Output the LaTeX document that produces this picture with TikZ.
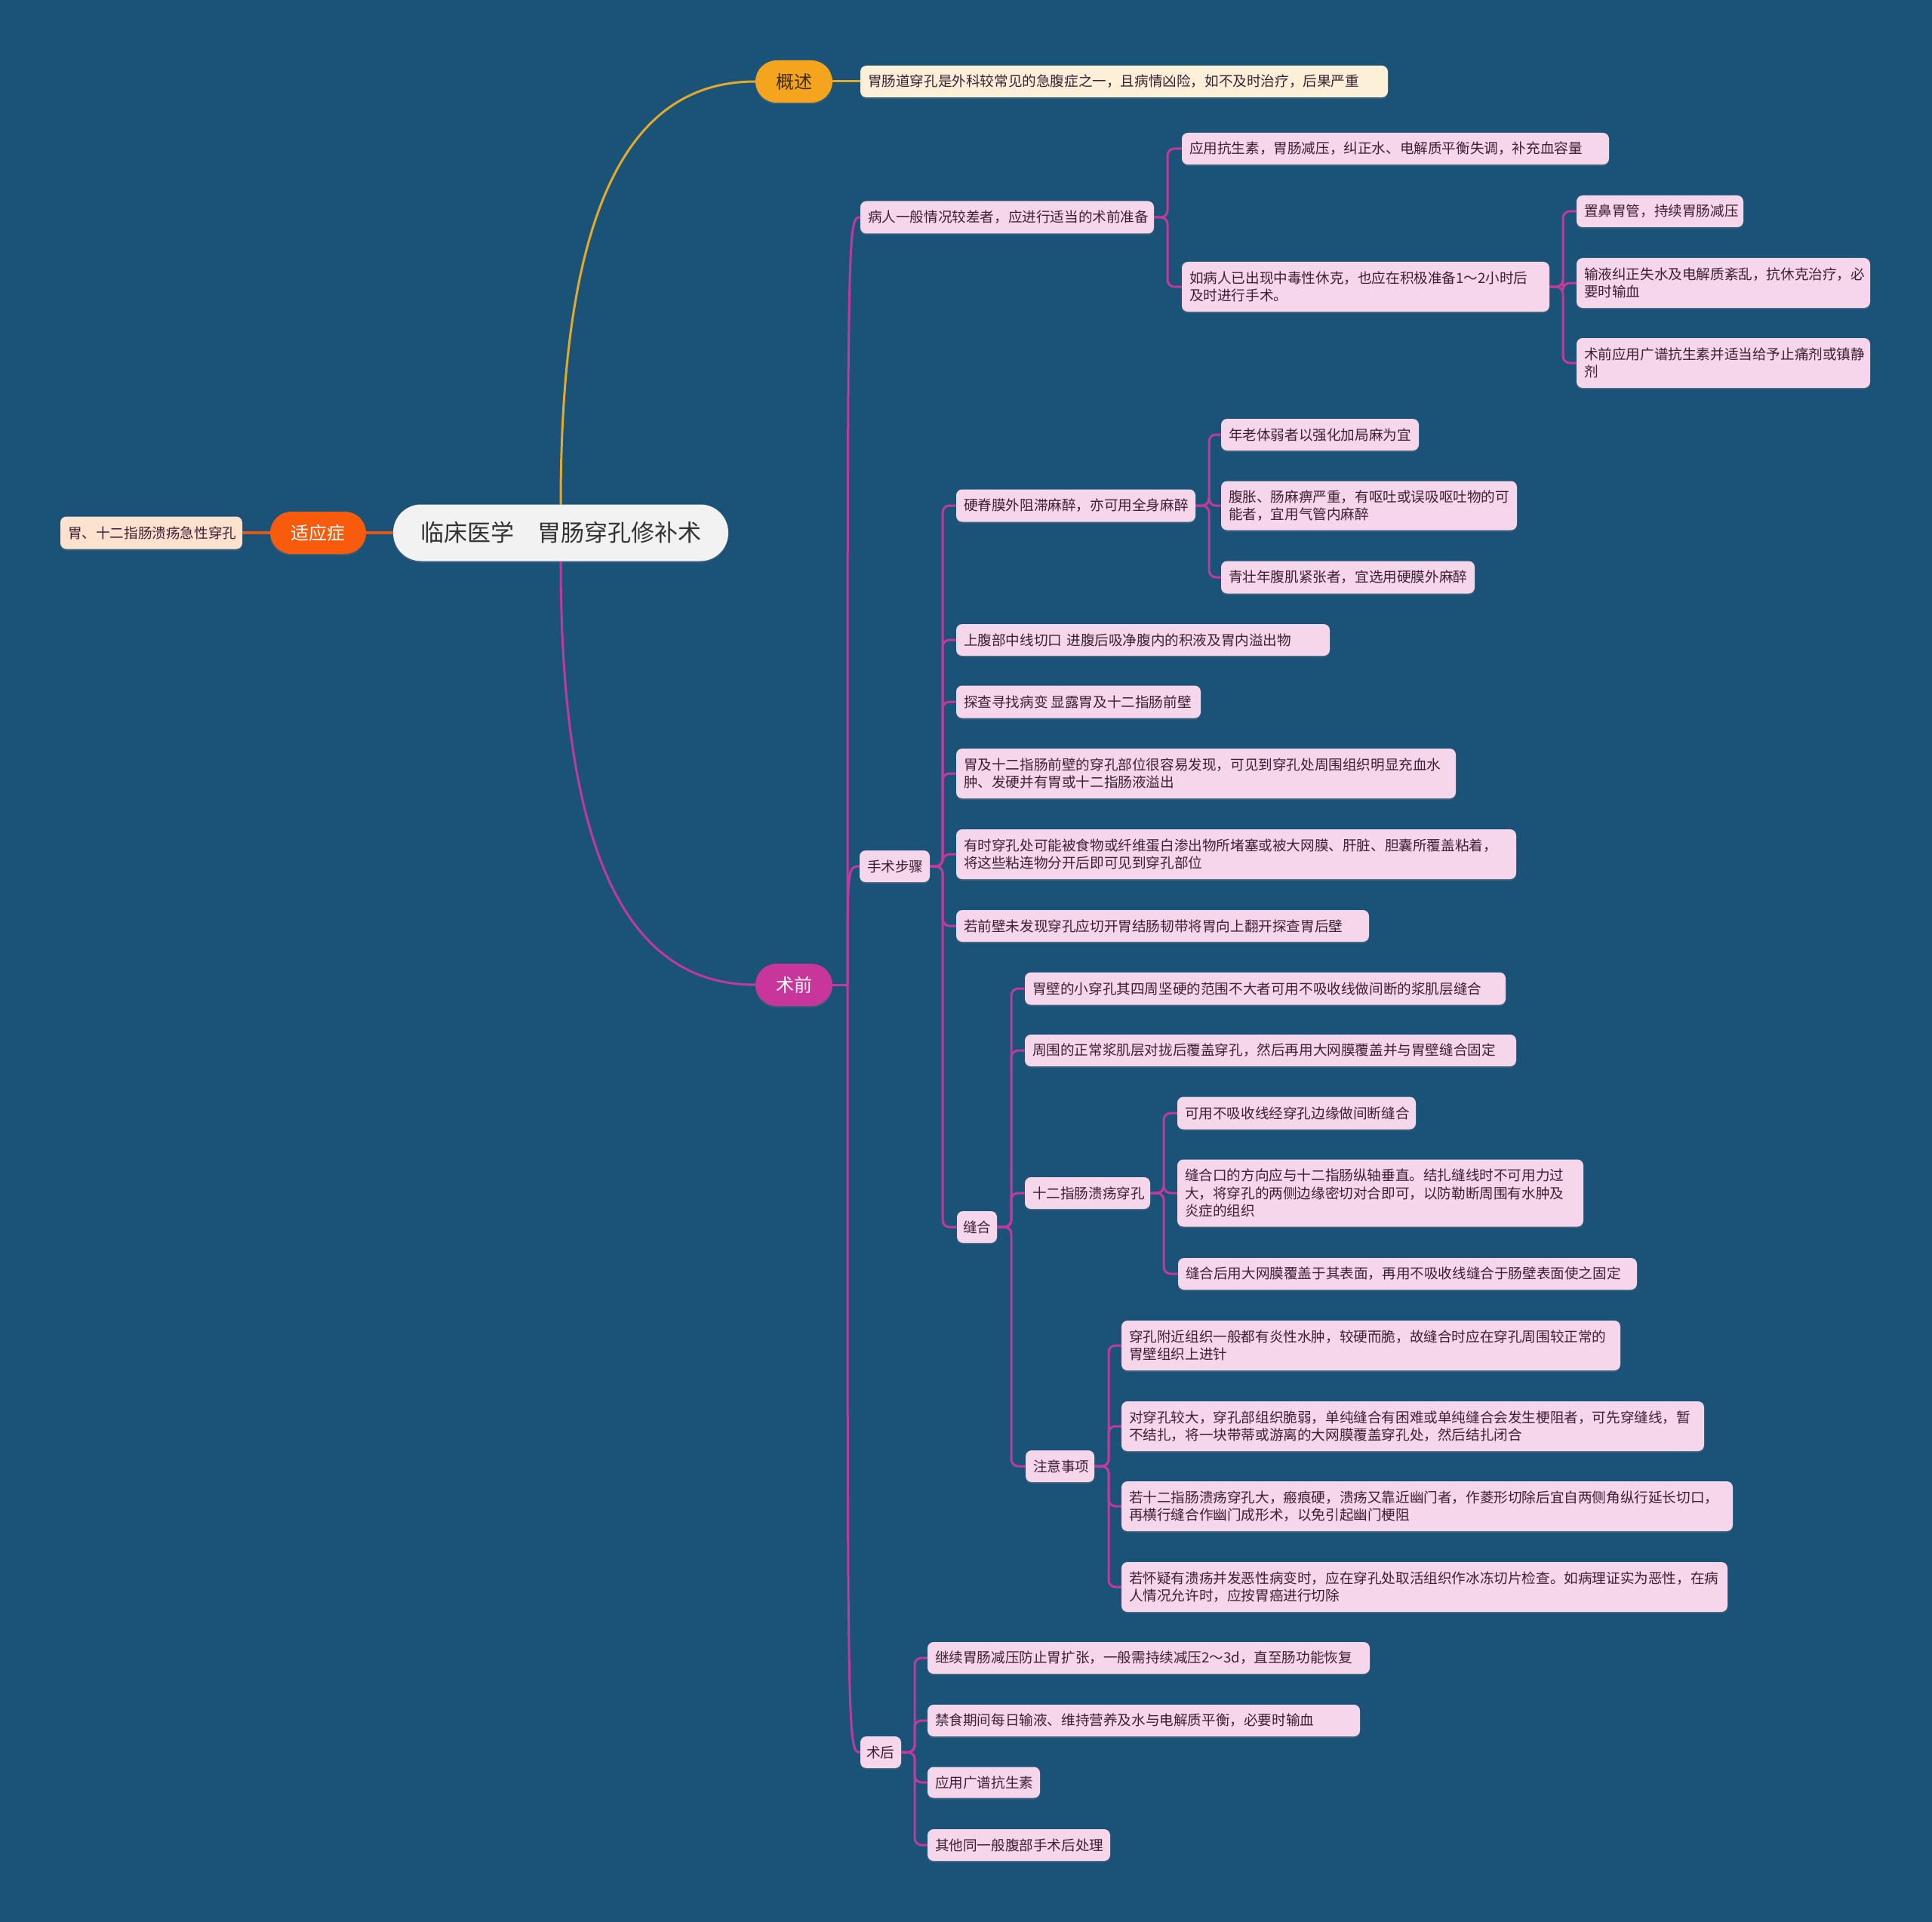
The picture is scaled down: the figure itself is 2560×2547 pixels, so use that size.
\documentclass[tikz,border=0pt]{standalone}
\usepackage{fontspec}
\setmainfont{Noto Sans CJK SC}
\usetikzlibrary{shadows,calc,backgrounds}
\definecolor{bg}{HTML}{1B5378}
\definecolor{pkfill}{HTML}{F5D6EA}
\definecolor{pktext}{HTML}{3D2033}
\definecolor{mag}{HTML}{BF3A9B}
\definecolor{magnode}{HTML}{C8359B}
\definecolor{gold}{HTML}{F5A41D}
\definecolor{goldline}{HTML}{E3A92A}
\definecolor{goldtext}{HTML}{3F2C08}
\definecolor{cream}{HTML}{FDF0D8}
\definecolor{orng}{HTML}{F95B0C}
\definecolor{orngline}{HTML}{E0581C}
\definecolor{peach}{HTML}{FDE2D0}
\definecolor{rootfill}{HTML}{F2F2F2}
\definecolor{roottext}{HTML}{333333}
\begin{document}
\begin{tikzpicture}[x=1pt,y=-1pt,
  shd/.style={drop shadow={shadow xshift=0pt,shadow yshift=-2pt,opacity=0.3}},
  pk/.style={fill=pkfill,text=pktext,rounded corners=8pt,anchor=west,inner xsep=10pt,inner ysep=2pt,outer sep=0pt,font=\fontsize{18.6}{23.5}\selectfont,align=left,shd},
  rootnode/.style={fill=rootfill,text=roottext,rounded corners=37pt,minimum width=444pt,minimum height=75pt,inner sep=0pt,outer sep=0pt,font=\fontsize{31}{36}\selectfont,shd},
  pill/.style={rounded corners=28pt,minimum width=102pt,minimum height=56pt,inner sep=0pt,outer sep=0pt,font=\fontsize{24}{28}\selectfont,shd},
  conn/.style={draw=mag,line width=3pt,rounded corners=9pt},
  magc/.style={draw=mag,line width=3pt},
  goldc/.style={draw=goldline,line width=3pt},
  orngc/.style={draw=orngline,line width=4pt}
]
\useasboundingbox (0,0) rectangle (2560,2547);
\begin{scope}[on background layer]
\fill[bg] (0,0) rectangle (2560,2547);
\end{scope}

% root and level 1
\node[rootnode] (root) at (743,706) {临床医学\quad 胃肠穿孔修补术};
\node[pill,fill=orng,text=white,minimum width=127pt] (syz) at (421.5,706) {适应症};
\node[pk,fill=peach,text width=221pt,minimum height=43pt] (syz1) at (80,706) {胃、十二指肠溃疡急性穿孔};
\node[pill,fill=gold,text=goldtext] (gs) at (1052,108) {概述};
\node[pk,fill=cream,text width=679pt,minimum height=42pt] (gs1) at (1140,108) {胃肠道穿孔是外科较常见的急腹症之一，且病情凶险，如不及时治疗，后果严重};
\node[pill,fill=magnode,text=white] (sq) at (1052,1305) {术前};

% 病人一般情况
\node[pk,text width=369pt,minimum height=43pt] (br) at (1140,288) {病人一般情况较差者，应进行适当的术前准备};
\node[pk,text width=546pt,minimum height=42pt] (br1) at (1566,197) {应用抗生素，胃肠减压，纠正水、电解质平衡失调，补充血容量};
\node[pk,text width=467pt,minimum height=66pt] (br2) at (1566,380) {如病人已出现中毒性休克，也应在积极准备1～2小时后\\及时进行手术。};
\node[pk,text width=201pt,minimum height=42pt] (br21) at (2089,280) {置鼻胃管，持续胃肠减压};
\node[pk,text width=369pt,minimum height=66pt] (br22) at (2089,375) {输液纠正失水及电解质紊乱，抗休克治疗，必\\要时输血};
\node[pk,text width=369pt,minimum height=66pt] (br23) at (2089,481) {术前应用广谱抗生素并适当给予止痛剂或镇静\\剂};

% 手术步骤
\node[pk,text width=73pt,minimum height=42pt] (ss) at (1139,1148) {手术步骤};
\node[pk,text width=297pt,minimum height=43pt] (ss1) at (1267,670) {硬脊膜外阻滞麻醉，亦可用全身麻醉};
\node[pk,text width=242pt,minimum height=42pt] (ss11) at (1618,576) {年老体弱者以强化加局麻为宜};
\node[pk,text width=372pt,minimum height=65pt] (ss12) at (1618,670) {腹胀、肠麻痹严重，有呕吐或误吸呕吐物的可\\能者，宜用气管内麻醉};
\node[pk,text width=316pt,minimum height=43pt] (ss13) at (1618,765) {青壮年腹肌紧张者，宜选用硬膜外麻醉};
\node[pk,text width=475pt,minimum height=42pt] (ss2) at (1267,848) {上腹部中线切口~进腹后吸净腹内的积液及胃内溢出物};
\node[pk,text width=304pt,minimum height=43pt] (ss3) at (1267,930) {探查寻找病变\hspace{4pt}显露胃及十二指肠前壁};
\node[pk,text width=642pt,minimum height=66pt] (ss4) at (1267,1025) {胃及十二指肠前壁的穿孔部位很容易发现，可见到穿孔处周围组织明显充血水\\肿、发硬并有胃或十二指肠液溢出};
\node[pk,text width=722pt,minimum height=66pt] (ss5) at (1267,1132) {有时穿孔处可能被食物或纤维蛋白渗出物所堵塞或被大网膜、肝脏、胆囊所覆盖粘着，\\将这些粘连物分开后即可见到穿孔部位};
\node[pk,text width=527pt,minimum height=42pt] (ss6) at (1267,1227) {若前壁未发现穿孔应切开胃结肠韧带将胃向上翻开探查胃后壁};

% 缝合
\node[pk,inner xsep=8pt,text width=37pt,minimum height=42pt] (fh) at (1268,1626) {缝合};
\node[pk,text width=617pt,minimum height=43pt] (fh1) at (1358,1310) {胃壁的小穿孔其四周坚硬的范围不大者可用不吸收线做间断的浆肌层缝合};
\node[pk,text width=631pt,minimum height=42pt] (fh2) at (1358,1392) {周围的正常浆肌层对拢后覆盖穿孔，然后再用大网膜覆盖并与胃壁缝合固定};
\node[pk,text width=146pt,minimum height=42pt] (fh3) at (1358,1581) {十二指肠溃疡穿孔};
\node[pk,text width=296pt,minimum height=43pt] (fh31) at (1560,1475) {可用不吸收线经穿孔边缘做间断缝合};
\node[pk,text width=518pt,minimum height=89pt] (fh32) at (1560,1581) {缝合口的方向应与十二指肠纵轴垂直。结扎缝线时不可用力过\\大，将穿孔的两侧边缘密切对合即可，以防勒断周围有水肿及\\炎症的组织};
\node[pk,text width=588pt,minimum height=42pt] (fh33) at (1561,1688) {缝合后用大网膜覆盖于其表面，再用不吸收线缝合于肠壁表面使之固定};
\node[pk,text width=71pt,minimum height=42pt] (fh4) at (1359,1943) {注意事项};
\node[pk,text width=641pt,minimum height=66pt] (fh41) at (1486,1783) {穿孔附近组织一般都有炎性水肿，较硬而脆，故缝合时应在穿孔周围较正常的\\胃壁组织上进针};
\node[pk,text width=752pt,minimum height=66pt] (fh42) at (1486,1890) {对穿孔较大，穿孔部组织脆弱，单纯缝合有困难或单纯缝合会发生梗阻者，可先穿缝线，暂\\不结扎，将一块带蒂或游离的大网膜覆盖穿孔处，然后结扎闭合};
\node[pk,text width=790pt,minimum height=66pt] (fh43) at (1486,1996) {若十二指肠溃疡穿孔大，瘢痕硬，溃疡又靠近幽门者，作菱形切除后宜自两侧角纵行延长切口，\\再横行缝合作幽门成形术，以免引起幽门梗阻};
\node[pk,text width=783pt,minimum height=66pt] (fh44) at (1486,2103) {若怀疑有溃疡并发恶性病变时，应在穿孔处取活组织作冰冻切片检查。如病理证实为恶性，在病\\人情况允许时，应按胃癌进行切除};

% 术后
\node[pk,inner xsep=8pt,text width=38pt,minimum height=42pt] (sh) at (1140,2322) {术后};
\node[pk,text width=566pt,minimum height=42pt] (sh1) at (1229,2197) {继续胃肠减压防止胃扩张，一般需持续减压2～3d，直至肠功能恢复};
\node[pk,text width=553pt,minimum height=42pt] (sh2) at (1229,2280) {禁食期间每日输液、维持营养及水与电解质平衡，必要时输血};
\node[pk,text width=129pt,minimum height=41pt] (sh3) at (1229,2362) {应用广谱抗生素};
\node[pk,text width=222pt,minimum height=42pt] (sh4) at (1229,2445) {其他同一般腹部手术后处理};

% connectors
\begin{scope}[on background layer]
\draw[orngc] (root.west) -- (syz.east);
\draw[orngc] (syz.west) -- (syz1.east);
\draw[goldc] (root.north) .. controls ($(root.north)+(0,-424)$) and ($(gs.west)+(-152,0)$) .. (gs.west);
\draw[goldc] (gs.east) -- (gs1.west);
\draw[magc] (root.south) .. controls ($(root.south)+(0,424)$) and ($(sq.west)+(-152,0)$) .. (sq.west);
\draw[magc] (sq.east) -- ++(20,0) coordinate (t0);
\foreach \c in {br,ss,sh}{
  \draw[magc] (t0) .. controls (t0 |- \c.west) .. (\c.west);
}
\foreach \c in {br1,br2}{\draw[conn] (br.east) -- ++(18,0) |- (\c.west);}
\foreach \c in {br21,br22,br23}{\draw[conn] (br2.east) -- ++(18,0) |- (\c.west);}
\foreach \c in {ss1,ss2,ss3,ss4,ss5,ss6,fh}{\draw[conn] (ss.east) -- ++(17,0) |- (\c.west);}
\foreach \c in {ss11,ss12,ss13}{\draw[conn] (ss1.east) -- ++(18,0) |- (\c.west);}
\foreach \c in {fh1,fh2,fh3,fh4}{\draw[conn] (fh.east) -- ++(19,0) |- (\c.west);}
\foreach \c in {fh31,fh32,fh33}{\draw[conn] (fh3.east) -- ++(18,0) |- (\c.west);}
\foreach \c in {fh41,fh42,fh43,fh44}{\draw[conn] (fh4.east) -- ++(19,0) |- (\c.west);}
\foreach \c in {sh1,sh2,sh3,sh4}{\draw[conn] (sh.east) -- ++(18,0) |- (\c.west);}
\end{scope}
\end{tikzpicture}
\end{document}
